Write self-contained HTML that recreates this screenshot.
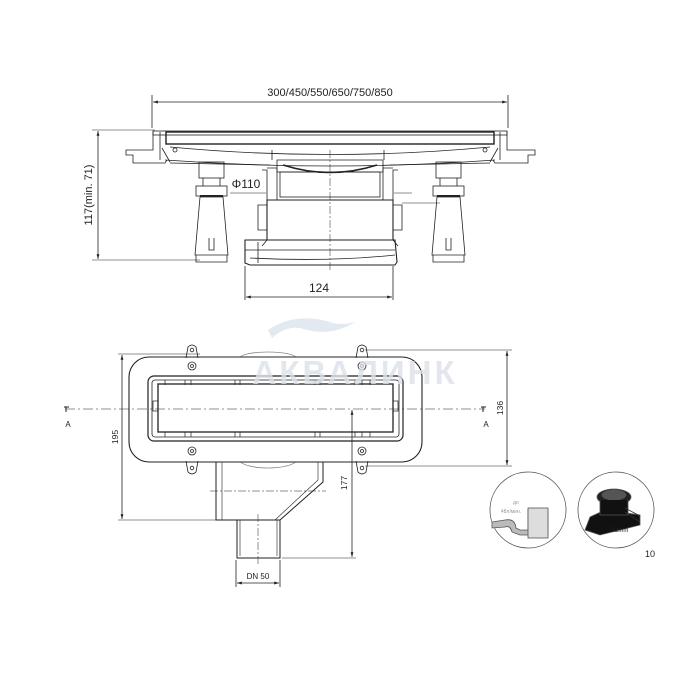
<!DOCTYPE html>
<html><head><meta charset="utf-8"><style>
html,body{margin:0;padding:0;background:#fff;width:700px;height:700px;overflow:hidden}
svg{display:block}
text{font-family:"Liberation Sans",sans-serif;fill:#222}
</style></head><body>
<svg width="700" height="700" viewBox="0 0 700 700" xmlns="http://www.w3.org/2000/svg">
<defs>
<marker id="ar" viewBox="0 0 10 10" refX="10" refY="5" markerWidth="6" markerHeight="6" orient="auto-start-reverse"><path d="M0,2 L10,5 L0,8z" fill="#222"/></marker>
</defs>
<g stroke="#222" stroke-width="0.8" fill="none">
<line x1="152" y1="95" x2="152" y2="128"/><line x1="508" y1="95" x2="508" y2="128"/>
<line x1="153" y1="102" x2="507" y2="102" marker-start="url(#ar)" marker-end="url(#ar)"/>
<line x1="98" y1="131" x2="98" y2="259" marker-start="url(#ar)" marker-end="url(#ar)"/>
<line x1="92" y1="130" x2="155" y2="130" stroke-width="0.5"/>
<line x1="92" y1="260" x2="200" y2="260" stroke-width="0.5"/>
<rect x="153" y="131" width="354" height="4" fill="#fff"/>
<rect x="166" y="132" width="328" height="12" stroke-width="1.4"/>
<path d="M153,131 L153,150 L126,150 L126,155 L133,155 L133,163 L165,163 L167,160"/>
<path d="M507,131 L507,150 L535,150 L535,155 L528,155 L528,163 L495,163 L493,160"/>
<path d="M160,132 L160,160 M500,132 L500,160 M162,148 L170,162 M498,148 L490,162"/>
<path d="M170,147 Q330,162 490,147" />
<path d="M165,160 Q330,172 495,160"/>
<path d="M170,163 L270,165 M390,165 L490,163"/>
<circle cx="175" cy="150" r="2"/><circle cx="485" cy="150" r="2"/>
<path d="M272,150 L272,160 M384,150 L384,160"/>
<rect x="199" y="162" width="25" height="16"/>
<rect x="196" y="186" width="31" height="10"/>
<path d="M203,178 L203,186 M220,178 L220,186"/>
<path d="M200,197 L223,197 L228,255 L195,255 Z"/>
<path d="M196,255 L196,262 L227,262 L227,255"/>
<path d="M209,238 L209,250 L214,250 L214,238"/>
<path d="M200,196 L223,196" stroke-width="2"/>
<rect x="436" y="162" width="25" height="16"/>
<rect x="433" y="186" width="31" height="10"/>
<path d="M440,178 L440,186 M457,178 L457,186"/>
<path d="M437,197 L460,197 L465,255 L432,255 Z"/>
<path d="M433,255 L433,262 L464,262 L464,255"/>
<path d="M446,238 L446,250 L451,250 L451,238"/>
<path d="M437,196 L460,196" stroke-width="2"/>
<path d="M277,160 L383,160 L383,172 L277,172 Z"/>
<path d="M283,165 Q330,180 377,165" stroke-width="1.5"/>
<rect x="280" y="172" width="100" height="25"/>
<path d="M267,200 L393,200 L393,240 L267,240 Z" stroke-width="1.1"/>
<path d="M267,168 L277,168 L277,200 M393,168 L383,168 L383,200"/>
<path d="M262,170 L267,170 L267,200 M398,170 L393,170 L393,200" />
<path d="M258,205 L267,205 L267,230 L258,230 Z M393,205 L402,205 L402,230 L393,230 Z"/>
<path d="M267,240 L262,246 M393,240 L398,246"/>
<path d="M245,240 L395,240 L397,262 L395,265 L250,265 L245,263 Z" stroke-width="1.1"/>
<path d="M245,250 L395,250 M258,242 L258,263 M250,258 Q330,262 395,255"/>
<line x1="330" y1="150" x2="330" y2="272" stroke-dasharray="8,2,2,2" stroke-width="0.5"/>
<line x1="230" y1="193" x2="266" y2="193" stroke-width="0.5"/>
<line x1="394" y1="193" x2="412" y2="193" stroke-width="0.5"/>
<line x1="402" y1="203" x2="440" y2="203" stroke-width="0.5"/>
<line x1="245" y1="266" x2="245" y2="300"/><line x1="393" y1="266" x2="393" y2="300"/>
<line x1="246" y1="297" x2="392" y2="297" marker-start="url(#ar)" marker-end="url(#ar)"/>

<ellipse cx="268" cy="358" rx="28" ry="6" stroke="#888"/>
<ellipse cx="268" cy="460" rx="28" ry="8" stroke="#888"/>
<rect x="129" y="357" width="293" height="105" rx="20" stroke-width="1.1" fill="#fff"/>
<rect x="148" y="376" width="255" height="65" rx="6" stroke-width="1.2"/>
<rect x="152" y="380" width="247" height="57" rx="3"/>
<rect x="158" y="384" width="235" height="48" stroke-width="1.3"/>
<g stroke-width="0.7">
<path d="M165,380 v5 M185,380 v5 M191,380 v5 M235,380 v5 M240,380 v5 M315,380 v5 M320,380 v5 M355,380 v5 M362,380 v5 M370,380 v5"/>
<path d="M165,432 v5 M185,432 v5 M191,432 v5 M235,432 v5 M240,432 v5 M315,432 v5 M320,432 v5 M355,432 v5 M362,432 v5 M370,432 v5"/>
<rect x="153" y="401" width="5" height="10"/><rect x="393" y="401" width="5" height="10"/>
</g>
<path d="M186,358 L188,347 Q192,343 196,347 L198,358"/><circle cx="192" cy="350" r="1.8"/>
<path d="M356,358 L358,347 Q362,343 366,347 L368,358"/><circle cx="362" cy="350" r="1.8"/>
<path d="M186,461 L188,472 Q192,476 196,472 L198,461"/><circle cx="192" cy="468" r="1.8"/>
<path d="M356,461 L358,472 Q362,476 366,472 L368,461"/><circle cx="362" cy="468" r="1.8"/>
<circle cx="192" cy="366" r="4"/><circle cx="192" cy="366" r="1.5"/>
<circle cx="362" cy="366" r="4"/><circle cx="362" cy="366" r="1.5"/>
<circle cx="192" cy="451" r="4"/><circle cx="192" cy="451" r="1.5"/>
<circle cx="362" cy="451" r="4"/><circle cx="362" cy="451" r="1.5"/>
<path d="M216,462 L216,520 L280,520 L323,482 L323,462" stroke-width="1"/>
<path d="M222,462 L222,520 M318,462 L318,480 L275,520" stroke-width="0.6"/>
<path d="M237,520 L237,558 L280,558 L280,520" stroke-width="1"/>
<path d="M240,520 L240,556 M277,520 L277,556" stroke-width="0.6"/>
<line x1="210" y1="491" x2="326" y2="491" stroke-dasharray="8,2,2,2" stroke-width="0.5"/>
<line x1="258" y1="514" x2="258" y2="565" stroke-dasharray="8,2,2,2" stroke-width="0.5"/>
<line x1="65" y1="409" x2="485" y2="409" stroke-dasharray="10,3,2,3" stroke-width="0.5"/>
<path d="M64,407 h5 M66,407 v5 M481,407 h5 M483,407 v5" stroke-width="1"/>
<line x1="365" y1="350" x2="512" y2="350" stroke-width="0.5"/>
<line x1="365" y1="466" x2="512" y2="466" stroke-width="0.5"/>
<line x1="507" y1="351" x2="507" y2="465" marker-start="url(#ar)" marker-end="url(#ar)"/>
<line x1="118" y1="354" x2="200" y2="354" stroke-width="0.5"/>
<line x1="118" y1="520" x2="216" y2="520" stroke-width="0.5"/>
<line x1="122" y1="355" x2="122" y2="519" marker-start="url(#ar)" marker-end="url(#ar)"/>
<line x1="352" y1="410" x2="352" y2="557" marker-start="url(#ar)" marker-end="url(#ar)"/>
<line x1="282" y1="558" x2="356" y2="558" stroke-width="0.5"/>
<line x1="236" y1="560" x2="236" y2="587"/><line x1="280" y1="560" x2="280" y2="587"/>
<line x1="237" y1="583" x2="279" y2="583" marker-start="url(#ar)" marker-end="url(#ar)"/>
<circle cx="528" cy="510" r="38" stroke="#555"/>
<circle cx="616" cy="510" r="38" stroke="#555"/>
</g>
<g stroke="#555" stroke-width="0.8">
<path d="M492,522 L505,520 Q515,518 516,528 L520,530 L528,530 L528,510 L548,510 L548,535 L520,535 L512,532 Q510,525 505,527 L492,528 Z" fill="#bbb"/>
<rect x="528" y="508" width="20" height="30" fill="#ddd"/>
<path d="M590,517 L605,510 L640,515 L640,525 L600,535 L585,530 Z" fill="#111"/>
<ellipse cx="614" cy="497" rx="17" ry="8" fill="#222"/>
<ellipse cx="614" cy="495" rx="12" ry="5" fill="#555"/>
<path d="M600,500 L600,515 L628,515 L628,500" fill="#111"/>
<path d="M625,508 L640,516 M625,512 L640,522" stroke="#333"/>
</g>
<path d="M268,330 Q295,312 330,322 Q340,326 355,322 Q330,338 300,328 Q285,326 272,338 Z" fill="#e3e9f0"/>
<text x="355" y="384" text-anchor="middle" font-size="33" font-weight="bold" style="fill:#dce2ea;opacity:0.8" letter-spacing="3">АКВАЛИНК</text>
<text x="330" y="96" text-anchor="middle" font-size="11">300/450/550/650/750/850</text>
<text x="92" y="195" text-anchor="middle" font-size="11" transform="rotate(-90 92 195)">117(min. 71)</text>
<text x="246" y="188" text-anchor="middle" font-size="12">Φ110</text>
<text x="319" y="292" text-anchor="middle" font-size="12">124</text>
<text x="68" y="427" text-anchor="middle" font-size="8">A</text>
<text x="486" y="427" text-anchor="middle" font-size="8">A</text>
<text x="503" y="408" text-anchor="middle" font-size="8.5" transform="rotate(-90 503 408)">136</text>
<text x="118" y="437" text-anchor="middle" font-size="8.5" transform="rotate(-90 118 437)">195</text>
<text x="347" y="483" text-anchor="middle" font-size="8.5" transform="rotate(-90 347 483)">177</text>
<text x="258" y="579" text-anchor="middle" font-size="8">DN 50</text>
<text x="516" y="504" text-anchor="middle" font-size="5" style="fill:#999">до</text>
<text x="511" y="513" text-anchor="middle" font-size="5" style="fill:#999">48л/мин.</text>
<text x="620" y="532" text-anchor="middle" font-size="6">52mm</text>
<text x="650" y="557" text-anchor="middle" font-size="9">10</text>
</svg>
</body></html>
